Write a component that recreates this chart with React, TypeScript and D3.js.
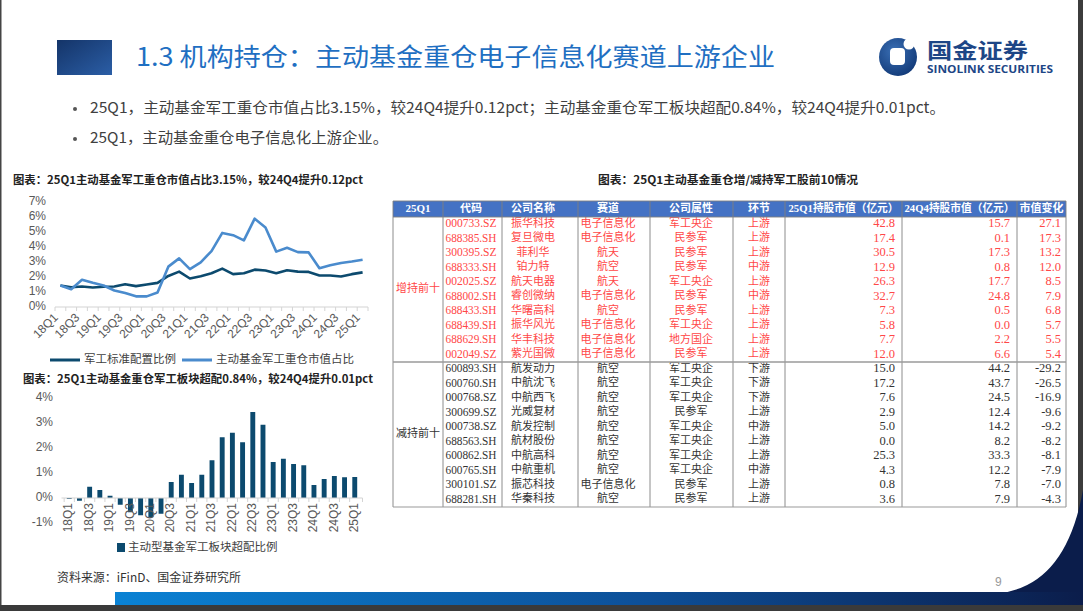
import React from "react";
import * as d3 from "d3";

// quarters 18Q1 .. 25Q1
const quarters = [
  "18Q1", "18Q2", "18Q3", "18Q4", "19Q1", "19Q2", "19Q3", "19Q4",
  "20Q1", "20Q2", "20Q3", "20Q4", "21Q1", "21Q2", "21Q3", "21Q4",
  "22Q1", "22Q2", "22Q3", "22Q4", "23Q1", "23Q2", "23Q3", "23Q4",
  "24Q1", "24Q2", "24Q3", "24Q4", "25Q1",
];

// 军工标准配置比例 (%)
const standardWeight = [
  1.43, 1.32, 1.37, 1.3, 1.35, 1.37, 1.52, 1.39, 1.5, 1.61, 2.07, 2.36, 1.9, 2.05, 2.25,
  2.56, 2.19, 2.25, 2.49, 2.43, 2.25, 2.45, 2.36, 2.34, 2.1, 2.1, 2.03, 2.19, 2.31,
];

// 主动基金军工重仓市值占比 (%)
const heavyShare = [
  1.43, 1.19, 1.81, 1.61, 1.43, 1.1, 0.93, 0.71, 0.71, 0.97, 2.69, 3.24, 2.52, 2.98, 3.73,
  4.94, 4.79, 4.44, 5.89, 5.3, 3.69, 3.95, 3.66, 3.64, 2.58, 2.78, 2.93, 3.03, 3.15,
];

// 主动型基金军工板块超配比例 (%)
const overweight = [
  -0.04, -0.11, 0.45, 0.32, 0.09, -0.27, -0.57, -0.69, -0.77, -0.63, 0.64, 0.93, 0.6, 0.93, 1.51,
  2.43, 2.61, 2.23, 3.44, 2.93, 1.44, 1.57, 1.36, 1.31, 0.52, 0.76, 0.88, 0.83, 0.84,
];

const lineTicks = [0, 1, 2, 3, 4, 5, 6, 7];
const barTicks = [-1, 0, 1, 2, 3, 4];

const tableHeader = [
  "25Q1", "代码", "公司名称", "赛道", "公司属性", "环节",
  "25Q1持股市值（亿元）", "24Q4持股市值（亿元）", "市值变化",
];

type Row = [string, string, string, string, string, number, number, number];

const increaseRows: Row[] = [
  ["000733.SZ", "振华科技", "电子信息化", "军工央企", "上游", 42.8, 15.7, 27.1],
  ["688385.SH", "复旦微电", "电子信息化", "民参军", "上游", 17.4, 0.1, 17.3],
  ["300395.SZ", "菲利华", "航天", "民参军", "上游", 30.5, 17.3, 13.2],
  ["688333.SH", "铂力特", "航空", "民参军", "中游", 12.9, 0.8, 12.0],
  ["002025.SZ", "航天电器", "航天", "军工央企", "上游", 26.3, 17.7, 8.5],
  ["688002.SH", "睿创微纳", "电子信息化", "民参军", "中游", 32.7, 24.8, 7.9],
  ["688433.SH", "华曙高科", "航空", "民参军", "上游", 7.3, 0.5, 6.8],
  ["688439.SH", "振华风光", "电子信息化", "军工央企", "上游", 5.8, 0.0, 5.7],
  ["688629.SH", "华丰科技", "电子信息化", "地方国企", "上游", 7.7, 2.2, 5.5],
  ["002049.SZ", "紫光国微", "电子信息化", "民参军", "上游", 12.0, 6.6, 5.4],
];

const decreaseRows: Row[] = [
  ["600893.SH", "航发动力", "航空", "军工央企", "下游", 15.0, 44.2, -29.2],
  ["600760.SH", "中航沈飞", "航空", "军工央企", "下游", 17.2, 43.7, -26.5],
  ["000768.SZ", "中航西飞", "航空", "军工央企", "下游", 7.6, 24.5, -16.9],
  ["300699.SZ", "光威复材", "航空", "民参军", "上游", 2.9, 12.4, -9.6],
  ["000738.SZ", "航发控制", "航空", "军工央企", "中游", 5.0, 14.2, -9.2],
  ["688563.SH", "航材股份", "航空", "军工央企", "上游", 0.0, 8.2, -8.2],
  ["600862.SH", "中航高科", "航空", "军工央企", "上游", 25.3, 33.3, -8.1],
  ["600765.SH", "中航重机", "航空", "军工央企", "中游", 4.3, 12.2, -7.9],
  ["300101.SZ", "振芯科技", "电子信息化", "民参军", "上游", 0.8, 7.8, -7.0],
  ["688281.SH", "华秦科技", "航空", "民参军", "上游", 3.6, 7.9, -4.3],
];

const SANS = "'Liberation Sans', Arial, 'Noto Sans CJK SC', sans-serif";
const CJK = "'Noto Sans CJK SC', sans-serif";
const SERIF = "'Liberation Serif', 'Noto Sans CJK SC', serif";

const DARK = "#0c4a6e";
const LIGHT = "#4a8bcd";
const AXIS = "#d4d4d4";
const LABEL = "#595959";
const RED = "#ff4747";

function LineChart() {
  const x = d3.scaleBand<string>().domain(quarters).range([55, 368]);
  const y = d3.scaleLinear().domain([0, 7]).range([307, 202]);
  const cx = (q: string) => (x(q) || 0) + x.bandwidth() / 2;
  const line = d3
    .line<number>()
    .x((_, i) => cx(quarters[i]))
    .y((d) => y(d));

  return (
    <g>
      <text x={13} y={181} fontFamily={CJK} fontWeight="bold" fontSize={11} fill="#222"
        dominantBaseline="middle" textLength={350} lengthAdjust="spacingAndGlyphs">
        图表：25Q1主动基金军工重仓市值占比3.15%，较24Q4提升0.12pct
      </text>
      {lineTicks.map((t) => (
        <text key={t} x={46} y={y(t)} textAnchor="end" dominantBaseline="middle"
          fontFamily={SANS} fontSize={12} fill={LABEL}>
          {t}%
        </text>
      ))}
      <line x1={55} x2={368} y1={y(0)} y2={y(0)} stroke={AXIS} strokeWidth={1.2} />
      {quarters.map((q) => (
        <line key={q} x1={x(q)} x2={x(q)} y1={y(0)} y2={y(0) + 4} stroke={AXIS} />
      ))}
      <line x1={368} x2={368} y1={y(0)} y2={y(0) + 4} stroke={AXIS} />
      {quarters.map((q, i) =>
        i % 2 === 0 ? (
          <text key={q} transform={`translate(${cx(q) - 4},${y(0) + 9}) rotate(-45)`}
            textAnchor="end" dominantBaseline="middle" fontFamily={SANS} fontSize={12} fill={LABEL}>
            {q}
          </text>
        ) : null
      )}
      <path d={line(standardWeight) || ""} fill="none" stroke={DARK} strokeWidth={2.6} strokeLinejoin="round" />
      <path d={line(heavyShare) || ""} fill="none" stroke={LIGHT} strokeWidth={2.6} strokeLinejoin="round" />

      <line x1={50} x2={80} y1={360} y2={360} stroke={DARK} strokeWidth={3} />
      <text x={84} y={360} dominantBaseline="middle" fontFamily={CJK} fontSize={11.5} fill="#404040">
        军工标准配置比例
      </text>
      <line x1={182} x2={212} y1={360} y2={360} stroke={LIGHT} strokeWidth={3} />
      <text x={216} y={360} dominantBaseline="middle" fontFamily={CJK} fontSize={11.5} fill="#404040">
        主动基金军工重仓市值占比
      </text>
    </g>
  );
}

function BarChart() {
  const x = d3.scaleBand<string>().domain(quarters).range([61.5, 362.5]).padding(0.52);
  const y = d3.scaleLinear().domain([-1, 4]).range([523, 398]);
  const step = x.step();
  const left = (q: string) => (x(q) || 0) - (step * x.paddingInner()) / 2;
  const cx = (q: string) => (x(q) || 0) + x.bandwidth() / 2;

  return (
    <g>
      <text x={23} y={380} fontFamily={CJK} fontWeight="bold" fontSize={11} fill="#222"
        dominantBaseline="middle" textLength={350} lengthAdjust="spacingAndGlyphs">
        图表：25Q1主动基金重仓军工板块超配0.84%，较24Q4提升0.01pct
      </text>
      {barTicks.map((t) => (
        <text key={t} x={53} y={y(t)} textAnchor="end" dominantBaseline="middle"
          fontFamily={SANS} fontSize={12} fill={LABEL}>
          {t}%
        </text>
      ))}
      {quarters.map((q, i) => (
        <rect key={q} x={x(q)} width={x.bandwidth()}
          y={y(Math.max(0, overweight[i]))}
          height={Math.abs(y(overweight[i]) - y(0))}
          fill={DARK} />
      ))}
      <line x1={61.5} x2={362.5} y1={y(0)} y2={y(0)} stroke={AXIS} strokeWidth={1.2} />
      {quarters.map((q) => (
        <line key={q} x1={left(q)} x2={left(q)} y1={y(0)} y2={y(0) + 4} stroke={AXIS} />
      ))}
      <line x1={362.5} x2={362.5} y1={y(0)} y2={y(0) + 4} stroke={AXIS} />
      {quarters.map((q, i) =>
        i % 2 === 0 ? (
          <text key={q} transform={`translate(${cx(q)},${y(0) + 5}) rotate(-90)`}
            textAnchor="end" dominantBaseline="middle" fontFamily={SANS} fontSize={12} fill={LABEL}>
            {q}
          </text>
        ) : null
      )}
      <rect x={117} y={543} width={8} height={9} fill={DARK} />
      <text x={128} y={547.5} dominantBaseline="middle" fontFamily={CJK} fontSize={11.5} fill="#404040">
        主动型基金军工板块超配比例
      </text>
    </g>
  );
}

function HoldingsTable() {
  const edges = [393, 443, 502, 578, 650, 733, 785, 902, 1017, 1066];
  const centers = [418, 471, 533, 608, 691, 759];
  const rights = [895, 1010, 1061];
  const top = d3.scaleBand<number>().domain(d3.range(increaseRows.length)).range([217, 362]);
  const bottom = d3.scaleBand<number>().domain(d3.range(decreaseRows.length)).range([362, 507]);

  const renderRows = (rows: Row[], band: d3.ScaleBand<number>, color: string, label: string) => (
    <g fill={color} fontFamily={SERIF} fontSize={11}>
      <text x={centers[0]} y={(band.range()[0] + band.range()[1]) / 2} textAnchor="middle"
        dominantBaseline="middle">
        {label}
      </text>
      {rows.map((r, i) => {
        const cy = (band(i) || 0) + band.bandwidth() / 2;
        return (
          <g key={r[0]}>
            {r.slice(0, 5).map((v, j) => (
              <text key={j} x={centers[j + 1]} y={cy} textAnchor="middle" dominantBaseline="middle"
                fontSize={j === 0 ? 12 : 11} textLength={j === 0 ? 51 : undefined}
                lengthAdjust="spacingAndGlyphs">
                {v as string}
              </text>
            ))}
            {r.slice(5).map((v, j) => (
              <text key={"n" + j} x={rights[j]} y={cy} textAnchor="end" dominantBaseline="middle"
                fontSize={12.5}>
                {(v as number).toFixed(1)}
              </text>
            ))}
          </g>
        );
      })}
    </g>
  );

  return (
    <g>
      <text x={728} y={181} textAnchor="middle" dominantBaseline="middle" fontFamily={CJK}
        fontWeight="bold" fontSize={11} fill="#222" textLength={260} lengthAdjust="spacingAndGlyphs">
        图表：25Q1主动基金重仓增/减持军工股前10情况
      </text>
      <rect x={393} y={201} width={1066 - 393} height={16} fill="#4472c4" />
      {tableHeader.map((h, j) => {
        const mid = j < 6 ? centers[j] : (edges[j] + edges[j + 1]) / 2;
        return (
          <text key={h} x={mid} y={209.5} textAnchor="middle" dominantBaseline="middle"
            fontFamily={SERIF} fontSize={11} fontWeight="bold" fill="#fff"
            textLength={j >= 6 ? (j === 8 ? 44 : 110) : undefined} lengthAdjust="spacingAndGlyphs">
            {h}
          </text>
        );
      })}
      {renderRows(increaseRows, top, RED, "增持前十")}
      {renderRows(decreaseRows, bottom, "#333", "减持前十")}
      {edges.map((e) => (
        <line key={e} x1={e} x2={e} y1={201} y2={507} stroke="#7f7f7f" strokeWidth={0.9} />
      ))}
      <line x1={393} x2={1066} y1={201} y2={201} stroke="#7f7f7f" strokeWidth={0.9} />
      <line x1={393} x2={1066} y1={217} y2={217} stroke="#7f7f7f" strokeWidth={0.9} />
      <line x1={393} x2={1066} y1={362} y2={362} stroke="#9a9a9a" strokeWidth={1.6} />
      <line x1={393} x2={1066} y1={507} y2={507} stroke="#9a9a9a" strokeWidth={1.2} />
    </g>
  );
}

export default function App() {
  return (
    <svg width={1083} height={611} viewBox="0 0 1083 611"
      style={{ position: "absolute", left: 0, top: 0, background: "#fff" }}>
      <defs>
        <linearGradient id="sq" x1="0" x2="1" y1="0" y2="1">
          <stop offset="0" stopColor="#143468" />
          <stop offset="1" stopColor="#2b5ea6" />
        </linearGradient>
        <linearGradient id="band" x1="0" x2="1" y1="0" y2="0">
          <stop offset="0" stopColor="#0a82d4" />
          <stop offset="0.55" stopColor="#0d4f98" />
          <stop offset="1" stopColor="#0b1d4b" />
        </linearGradient>
        <radialGradient id="logo" cx="0.4" cy="0.35" r="0.7">
          <stop offset="0" stopColor="#3a6fb5" />
          <stop offset="1" stopColor="#123a78" />
        </radialGradient>
      </defs>
      <rect width={1083} height={611} fill="#fff" />
      <rect x={0} y={0} width={1.5} height={611} fill="#444" />
      <rect x={1078} y={0} width={5} height={611} fill="#3c3c3c" />

      {/* header */}
      <rect x={57} y={40} width={55} height={35} fill="url(#sq)" />
      <text x={136} y={59} dominantBaseline="middle" fontFamily={CJK} fontSize={25} fill="#1f6fc2"
        textLength={639} lengthAdjust="spacingAndGlyphs">
        1.3 机构持仓：主动基金重仓电子信息化赛道上游企业
      </text>
      <circle cx={898} cy={57} r={19} fill="url(#logo)" />
      <rect x={890} y={48} width={15} height={17} rx={4} fill="#fff" />
      <circle cx={909} cy={44} r={5.5} fill="#fff" />
      <text x={927} y={52} dominantBaseline="middle" fontFamily={CJK} fontWeight="bold" fontSize={21}
        fill="#1d4686" textLength={101} lengthAdjust="spacingAndGlyphs">
        国金证券
      </text>
      <text x={927} y={70} dominantBaseline="middle" fontFamily="'Open Sans', sans-serif" fontWeight="bold"
        fontSize={10} fill="#1d4686" textLength={126} lengthAdjust="spacingAndGlyphs">
        SINOLINK SECURITIES
      </text>

      {/* bullets */}
      <circle cx={75} cy={109} r={2} fill="#555" />
      <text x={90} y={109} dominantBaseline="middle" fontFamily={CJK} fontSize={15} fill="#404040"
        textLength={855} lengthAdjust="spacingAndGlyphs">
        25Q1，主动基金军工重仓市值占比3.15%，较24Q4提升0.12pct；主动基金重仓军工板块超配0.84%，较24Q4提升0.01pct。
      </text>
      <circle cx={75} cy={139} r={2} fill="#555" />
      <text x={90} y={139} dominantBaseline="middle" fontFamily={CJK} fontSize={15} fill="#404040"
        textLength={298} lengthAdjust="spacingAndGlyphs">
        25Q1，主动基金重仓电子信息化上游企业。
      </text>

      <LineChart />
      <BarChart />
      <HoldingsTable />

      {/* footer */}
      <text x={57} y={579} dominantBaseline="middle" fontFamily={CJK} fontSize={12} fill="#333"
        textLength={184} lengthAdjust="spacingAndGlyphs">
        资料来源：iFinD、国金证券研究所
      </text>
      <text x={995} y={583} dominantBaseline="middle" fontFamily={SANS} fontSize={12} fill="#999">9</text>
      <path d="M1000 593 Q1066 585 1083 490 L1083 606 L1000 606 Z" fill="#0b1d4b" />
      <rect x={115} y={592} width={968} height={14} fill="url(#band)" />
      <rect x={0} y={605} width={1083} height={6} fill="#3a3a3a" />
    </svg>
  );
}
